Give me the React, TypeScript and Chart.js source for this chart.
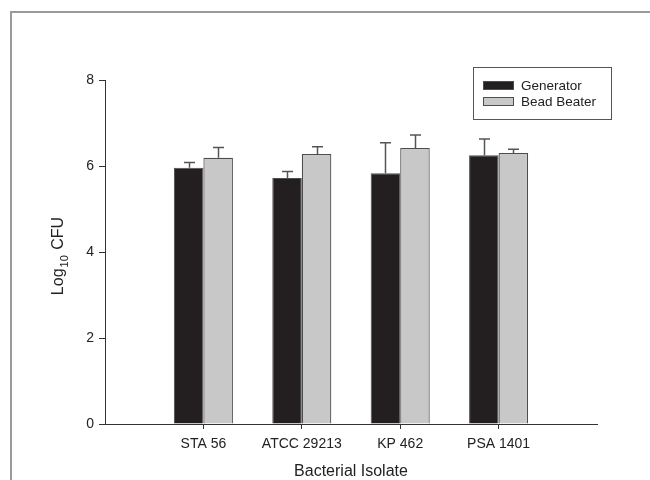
import React, { useEffect, useRef } from "react";
import { Chart, registerables } from "chart.js";

Chart.register(...registerables);

const categories = ["STA 56", "ATCC 29213", "KP 462", "PSA 1401"];
const seriesNames = ["Generator", "Bead Beater"];
const generatorValues = [5.96, 5.72, 5.83, 6.25];
const generatorErrors = [0.12, 0.15, 0.71, 0.38];
const beadValues = [6.19, 6.28, 6.42, 6.3];
const beadErrors = [0.24, 0.17, 0.3, 0.09];
const yTicks = [0, 2, 4, 6, 8];

const FONT = '"Liberation Sans", Arial, Helvetica, sans-serif';
const GEN_COLOR = "#231f20";
const BEAD_COLOR = "#c8c8c8";
const EDGE = "#4d4d4d";

const errorsByDataset = [generatorErrors, beadErrors];

const decorPlugin = {
  id: "decor",
  afterDatasetsDraw(chart: any) {
    const ctx = chart.ctx;
    const yScale = chart.scales.y;
    chart.data.datasets.forEach((ds: any, di: number) => {
      const meta = chart.getDatasetMeta(di);
      meta.data.forEach((el: any, i: number) => {
        const v = ds.data[i];
        if (v === null || v === undefined) return;
        const err = errorsByDataset[di][i - 1];
        const yTop = yScale.getPixelForValue(v + err);
        const x = Math.round(el.x) + 0.5;
        ctx.save();
        ctx.strokeStyle = "#555555";
        ctx.lineWidth = 1.5;
        ctx.beginPath();
        ctx.moveTo(x, el.y);
        ctx.lineTo(x, yTop);
        ctx.moveTo(x - 5.5, yTop);
        ctx.lineTo(x + 5.5, yTop);
        ctx.stroke();
        ctx.restore();
      });
    });
  },
  afterDraw(chart: any) {
    const ctx = chart.ctx;
    const area = chart.chartArea;
    ctx.save();
    ctx.strokeStyle = "#9a9a9a";
    ctx.lineWidth = 2;
    ctx.beginPath();
    ctx.moveTo(11, 480);
    ctx.lineTo(11, 12);
    ctx.lineTo(650, 12);
    ctx.stroke();

    const lx = 473, ly = 67, lw = 138, lh = 52;
    ctx.strokeStyle = "#555555";
    ctx.lineWidth = 1;
    ctx.strokeRect(lx + 0.5, ly + 0.5, lw, lh);
    const colors = [GEN_COLOR, BEAD_COLOR];
    ctx.font = `13.5px ${FONT}`;
    ctx.textBaseline = "middle";
    ctx.textAlign = "left";
    seriesNames.forEach((name, i) => {
      const sy = 81 + i * 16;
      ctx.fillStyle = colors[i];
      ctx.fillRect(483, sy, 31, 9);
      ctx.strokeStyle = EDGE;
      ctx.strokeRect(483.5, sy + 0.5, 30, 8);
      ctx.fillStyle = "#222222";
      ctx.fillText(name, 521, sy + 5);
    });

    ctx.font = `16px ${FONT}`;
    ctx.textAlign = "center";
    ctx.fillStyle = "#222222";
    ctx.fillText("Bacterial Isolate", (area.left + area.right) / 2, 472);

    ctx.translate(59, (area.top + area.bottom) / 2 + 4);
    ctx.rotate(-Math.PI / 2);
    const f1 = `16px ${FONT}`;
    const f2 = `11px ${FONT}`;
    ctx.font = f1;
    const w1 = ctx.measureText("Log").width;
    const w3 = ctx.measureText(" CFU").width;
    ctx.font = f2;
    const w2 = ctx.measureText("10").width;
    let x = -(w1 + w2 + w3 + 2) / 2;
    ctx.textAlign = "left";
    ctx.font = f1;
    ctx.fillText("Log", x, 0);
    x += w1 + 1;
    ctx.font = f2;
    ctx.fillText("10", x, 6);
    x += w2 + 1;
    ctx.font = f1;
    ctx.fillText(" CFU", x, 0);
    ctx.restore();
  },
};

export default function App() {
  const ref = useRef<HTMLCanvasElement | null>(null);
  useEffect(() => {
    if (!ref.current) return;
    const labels = ["", ...categories, ""];
    const chart = new Chart(ref.current, {
      type: "bar",
      data: {
        labels,
        datasets: [
          {
            label: seriesNames[0],
            data: [null, ...generatorValues, null],
            backgroundColor: GEN_COLOR,
            borderColor: EDGE,
            borderWidth: 1,
          },
          {
            label: seriesNames[1],
            data: [null, ...beadValues, null],
            backgroundColor: BEAD_COLOR,
            borderColor: EDGE,
            borderWidth: 1.2,
          },
        ],
      },
      options: {
        animation: false,
        responsive: false,
        devicePixelRatio: 1,
        layout: { padding: { left: 0, top: 80, right: 53, bottom: 0 } },
        plugins: { legend: { display: false }, tooltip: { enabled: false } },
        datasets: { bar: { categoryPercentage: 0.6, barPercentage: 1 } },
        scales: {
          x: {
            offset: false,
            grid: {
              offset: false,
              drawOnChartArea: false,
              drawTicks: true,
              tickLength: 5,
              color: (c: any) =>
                c.index === 0 || c.index === labels.length - 1 ? "rgba(0,0,0,0)" : "#333333",
            },
            border: { display: true, color: "#333333", width: 1 },
            ticks: {
              font: { family: FONT, size: 14 },
              color: "#222222",
              padding: 7,
              maxRotation: 0,
              autoSkip: false,
            },
            afterFit: (s: any) => {
              s.height = 56;
            },
          },
          y: {
            min: 0,
            max: 8,
            afterBuildTicks: (s: any) => {
              s.ticks = yTicks.map((v) => ({ value: v }));
            },
            grid: {
              drawOnChartArea: false,
              drawTicks: true,
              tickLength: 6,
              color: "#333333",
            },
            border: { display: true, color: "#333333", width: 1 },
            ticks: {
              font: { family: FONT, size: 14 },
              color: "#222222",
              padding: 5,
            },
            afterFit: (s: any) => {
              s.width = 105;
            },
          },
        },
      },
      plugins: [decorPlugin],
    } as any);
    return () => chart.destroy();
  }, []);
  return (
    <div style={{ position: "absolute", left: 0, top: 0, width: 650, height: 480, background: "#fff" }}>
      <canvas ref={ref} width={650} height={480} />
    </div>
  );
}
